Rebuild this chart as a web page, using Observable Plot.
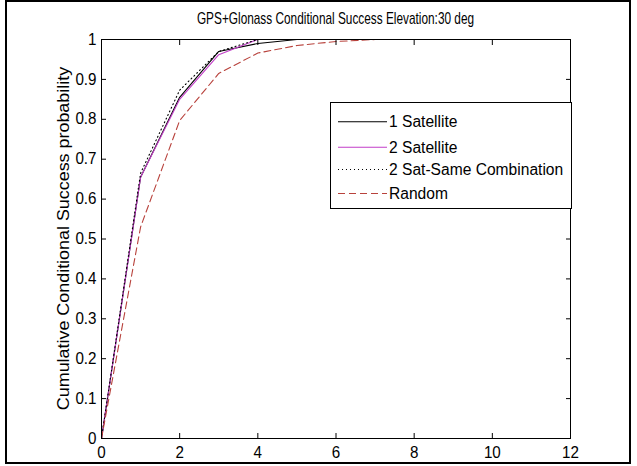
<!DOCTYPE html>
<html><head><meta charset="utf-8">
<script src="https://cdn.jsdelivr.net/npm/d3@7"></script>
<script src="https://cdn.jsdelivr.net/npm/@observablehq/plot@0.6"></script>
<style>
html,body{margin:0;padding:0;background:#fff;}
#wrap{position:relative;width:637px;height:466px;overflow:hidden;background:#fff;}
#border{position:absolute;left:5px;top:0;width:626px;height:464px;border:2px solid #000;box-sizing:border-box;pointer-events:none;}
</style></head><body>
<div id="wrap"><div id="chart"></div><div id="border"></div></div>
<script>
const titleText = "GPS+Glonass Conditional Success Elevation:30 deg";
const yLabelText = "Cumulative Conditional Success probability";
const seriesNames = ["1 Satellite", "2 Satellite", "2 Sat-Same Combination", "Random"];
const xValues = [0, 1, 2, 3, 4, 5, 6, 7, 8, 9, 10, 11, 12];
const sat1 = [0, 0.655, 0.855, 0.97, 0.99, 1, 1, 1, 1, 1, 1, 1, 1];
const sat2 = [0, 0.655, 0.85, 0.962, 1, 1, 1, 1, 1, 1, 1, 1, 1];
const sameComb = [0, 0.665, 0.873, 0.97, 1, 1, 1, 1, 1, 1, 1, 1, 1];
const random = [0, 0.53, 0.797, 0.915, 0.966, 0.985, 0.995, 1, 1, 1, 1, 1, 1];
const xTicks = [0, 2, 4, 6, 8, 10, 12];
const yTicks = [0, 0.1, 0.2, 0.3, 0.4, 0.5, 0.6, 0.7, 0.8, 0.9, 1];

const styles = [
  {stroke: "#000000", dash: null},
  {stroke: "#c23ec8", dash: null},
  {stroke: "#000000", dash: "1,3"},
  {stroke: "#b8423c", dash: "7,4"}
];
const allSeries = [sat1, sat2, sameComb, random];
const rows = [];
allSeries.forEach((vals, si) => vals.forEach((v, i) => rows.push({x: xValues[i], y: v, series: seriesNames[si]})));

const FONT = "'Liberation Sans', Arial, sans-serif";
const lineMarks = seriesNames.map((name, si) => Plot.line(rows.filter(r => r.series === name), {
  x: "x", y: "y", stroke: styles[si].stroke, strokeWidth: 1.1, strokeDasharray: styles[si].dash
}));

const svg = Plot.plot({
  width: 637, height: 466,
  marginLeft: 101, marginRight: 67, marginTop: 39, marginBottom: 28,
  style: {fontFamily: FONT, fontSize: "16px", color: "#000", background: "#fff"},
  x: {domain: [0, 12], axis: null},
  y: {domain: [0, 1], axis: null},
  marks: [
    ...lineMarks,
    Plot.axisX(xTicks, {anchor: "bottom", tickSize: -5, tickPadding: 13, label: null}),
    Plot.axisX(xTicks, {anchor: "top", tickSize: -5, tickFormat: () => "", label: null}),
    Plot.axisY(yTicks, {anchor: "left", tickSize: -5, tickPadding: 10, tickFormat: d => String(d), label: null}),
    Plot.axisY(yTicks, {anchor: "right", tickSize: -5, tickFormat: () => "", label: null}),
    Plot.frame({stroke: "#000"})
  ]
});

const s = d3.select(svg);
// narrow the tick labels slightly, like the reference font
s.selectAll('g[aria-label$="tick label"] text').each(function() {
  const t = this.getAttribute("transform") || "";
  this.setAttribute("transform", t + " scale(0.95,1)");
});
// title
s.append("text").text(titleText)
  .attr("transform", "translate(335.5,24) scale(0.74,1)")
  .attr("text-anchor", "middle").attr("font-size", 16).attr("fill", "#000");
// y label
s.append("text").text(yLabelText)
  .attr("transform", "translate(69,238.5) rotate(-90) scale(1.12,1)")
  .attr("text-anchor", "middle").attr("font-size", 16).attr("fill", "#000");
// legend
const lg = s.append("g");
lg.append("rect").attr("x", 330.5).attr("y", 102.5).attr("width", 241).attr("height", 106)
  .attr("fill", "#fff").attr("stroke", "#000");
const rowY = [121.7, 147.3, 169.5, 193.5];
seriesNames.forEach((name, si) => {
  lg.append("line").attr("x1", 338).attr("x2", 387).attr("y1", rowY[si]).attr("y2", rowY[si])
    .attr("stroke", styles[si].stroke).attr("stroke-width", 1.1)
    .attr("stroke-dasharray", styles[si].dash);
  lg.append("text").text(name).attr("x", 389).attr("y", rowY[si] + 5.5)
    .attr("text-anchor", "start")
    .attr("font-size", 15.6).attr("fill", "#000");
});
document.getElementById("chart").appendChild(svg);
</script>
</body></html>
